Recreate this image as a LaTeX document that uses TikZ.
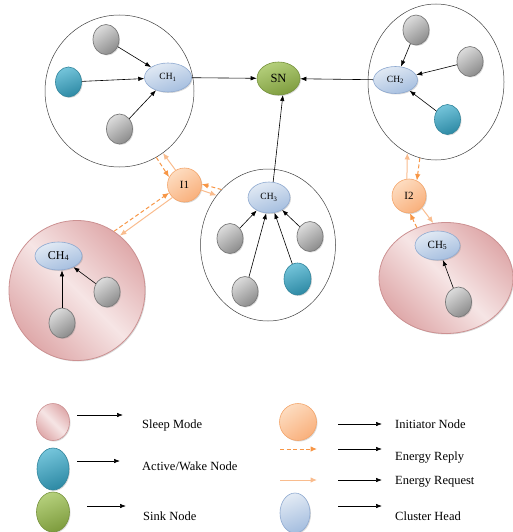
\documentclass[tikz,border=0pt]{standalone}
\usepackage{fontspec}
\setmainfont{Liberation Serif}
\usetikzlibrary{shapes.geometric,arrows.meta,shadows}
\definecolor{grayL}{HTML}{DCDCDC}
\definecolor{grayD}{HTML}{8C8C8C}
\definecolor{grayE}{HTML}{7A7A7A}
\definecolor{tealL}{HTML}{74C4DA}
\definecolor{tealD}{HTML}{2E8AA5}
\definecolor{tealE}{HTML}{31859C}
\definecolor{blueL}{HTML}{E2EAF4}
\definecolor{blueD}{HTML}{A5BEDF}
\definecolor{blueE}{HTML}{8EA9D0}
\definecolor{greenL}{HTML}{B5D07C}
\definecolor{greenD}{HTML}{7E9C3E}
\definecolor{greenE}{HTML}{76923C}
\definecolor{oraL}{HTML}{FDDCC0}
\definecolor{oraD}{HTML}{F9B07C}
\definecolor{oraE}{HTML}{F4A56A}
\definecolor{pinkD}{HTML}{DFA9AA}
\definecolor{pinkL}{HTML}{F6E5E5}
\definecolor{pinkE}{HTML}{CC9192}
\definecolor{repc}{HTML}{F79646}
\definecolor{reqc}{HTML}{F9BC8E}
\begin{document}
\begin{tikzpicture}[x=1pt,y=-1pt,
  ar/.style={-{Latex[length=6pt,width=4.5pt]},line width=0.6pt,black},
  req/.style={-{Latex[length=6.5pt,width=5.5pt]},line width=1pt,reqc},
  rep/.style={-{Latex[length=6.5pt,width=5.5pt]},line width=1pt,repc,dash pattern=on 4pt off 2.5pt},
  sh/.style={drop shadow={shadow xshift=1pt,shadow yshift=-1pt,opacity=0.3}},
  sens/.style={ellipse,inner sep=0pt,minimum width=26pt,minimum height=30pt,sh},
  gnode/.style={sens,draw=grayE,line width=0.7pt,top color=grayL,bottom color=grayD,shading angle=35},
  tnode/.style={sens,draw=tealE,line width=0.6pt,top color=tealL,bottom color=tealD,shading angle=20},
  chnode/.style={ellipse,inner sep=0pt,draw=blueE,line width=0.6pt,top color=blueL,bottom color=blueD,shading angle=20,sh,font=\fontsize{9.5}{10}\selectfont},
  snnode/.style={ellipse,inner sep=0pt,draw=greenE,line width=0.6pt,top color=greenL,bottom color=greenD,shading angle=20,sh,font=\fontsize{12.5}{14}\selectfont},
  inode/.style={circle,inner sep=0pt,draw=oraE,line width=0.6pt,top color=oraL,bottom color=oraD,shading angle=35,sh,minimum size=34pt,font=\fontsize{11}{12}\selectfont},
  clus/.style={ellipse,inner sep=0pt,draw=black!75,line width=0.5pt},
  pclus/.style={ellipse,inner sep=0pt,draw=pinkE,line width=0.8pt,top color=pinkD,bottom color=pinkD,middle color=pinkL,shading angle=-45,sh},
  legtext/.style={anchor=west,inner sep=0pt,font=\fontsize{12.5}{14}\selectfont}
]
\useasboundingbox (0,0) rectangle (513,532);

% clusters
\node[clus,minimum width=149pt,minimum height=152pt] (C1) at (119.5,91) {};
\node[clus,minimum width=136pt,minimum height=156pt] (C2) at (436,82) {};
\node[clus,minimum width=135pt,minimum height=152pt] (C3) at (268,245) {};
\node[pclus,minimum width=136pt,minimum height=140pt] (C4) at (77,290.5) {};
\node[pclus,minimum width=134pt,minimum height=111pt] (C5) at (446,278) {};

% sink
\node[snnode,minimum width=43pt,minimum height=33pt] (SN) at (278.5,78.5) {SN};

% cluster 1
\node[chnode,minimum width=47pt,minimum height=29pt] (CH1) at (168,77.5) {CH\textsubscript{1}};
\node[gnode] (g11) at (106,39.5) {};
\node[tnode] (t12) at (68.5,82) {};
\node[gnode] (g13) at (119.5,129) {};
\draw[ar] (g11) -- (CH1);
\draw[ar] (t12) -- (CH1);
\draw[ar] (g13) -- (CH1);

% cluster 2
\node[chnode,minimum width=44pt,minimum height=27pt] (CH2) at (395.5,80) {CH\textsubscript{2}};
\node[gnode] (g21) at (416,30) {};
\node[gnode] (g22) at (470,61.5) {};
\node[tnode] (t23) at (447.5,119.5) {};
\draw[ar] (g21) -- (CH2);
\draw[ar] (g22) -- (CH2);
\draw[ar] (t23) -- (CH2);

% cluster 3
\node[chnode,minimum width=42pt,minimum height=31pt] (CH3) at (269,197.5) {CH\textsubscript{3}};
\node[gnode] (g31) at (230,238.5) {};
\node[gnode] (g32) at (310,236.5) {};
\node[gnode] (g33) at (245,291.5) {};
\node[tnode,minimum width=27pt,minimum height=32pt] (t34) at (297.5,279) {};
\draw[ar] (g31) -- (CH3);
\draw[ar] (g32) -- (CH3);
\draw[ar] (g33) -- (CH3.-100);
\draw[ar] (t34) -- (CH3.-70);

% cluster 4
\node[chnode,minimum width=47pt,minimum height=28pt,font=\fontsize{12}{13}\selectfont] (CH4) at (58.5,256) {CH\textsubscript{4}};
\node[gnode] (g41) at (107,292) {};
\node[gnode] (g42) at (62,323) {};
\draw[ar] (g41) -- (CH4);
\draw[ar] (g42.north) -- (g42.north |- CH4.south);

% cluster 5
\node[chnode,minimum width=45pt,minimum height=29pt,font=\fontsize{11}{12}\selectfont] (CH5) at (437.5,245.5) {CH\textsubscript{5}};
\node[gnode] (g51) at (458.5,302) {};
\draw[ar] (g51) -- (CH5);

% to sink
\draw[ar] (CH1) -- (SN);
\draw[ar] (CH2) -- (SN);
\draw[ar] (CH3.75) -- (SN.-75);

% initiators
\node[inode] (I1) at (184.5,185) {I1};
\node[inode] (I2) at (409,196) {I2};

\draw[rep] (C1.-61) -- (I1.153);
\draw[req] (I1.121) -- (C1.-55);
\draw[rep] (C4.58) -- (I1.207);
\draw[req] (I1.226) -- (C4.52);
\draw[rep] (C3.130) -- (I1.3);
\draw[req] (I1.-17) -- (C3.136);
\draw[req] (I2.97) -- (C2.-112);
\draw[rep] (C2.-102) -- (I2.63);
\draw[rep] (C5.120) -- (I2.-87);
\draw[req] (I2.-43) -- (C5.103);

% legend
\node[pclus,minimum width=33pt,minimum height=37pt,line width=0.6pt] (Lsleep) at (53,422) {};
\node[tnode,minimum width=32pt,minimum height=42pt] (Lact) at (53,469) {};
\node[snnode,minimum width=33pt,minimum height=40pt] (Lsink) at (53,512) {};
\node[inode,minimum size=37pt] (Linit) at (298,422) {};
\node[chnode,minimum width=30pt,minimum height=40pt] (Lch) at (295,513) {};

\coordinate (a1s) at (77,415); \coordinate (a1e) at (123,415);
\coordinate (a2s) at (77,461); \coordinate (a2e) at (120,461);
\coordinate (a3s) at (87,506); \coordinate (a3e) at (126,506);
\coordinate (b1s) at (338,424); \coordinate (b1e) at (382,424);
\coordinate (b2s) at (338,449); \coordinate (b2e) at (382,449);
\coordinate (b3s) at (338,480); \coordinate (b3e) at (382,480);
\coordinate (b4s) at (338,506); \coordinate (b4e) at (382,506);
\coordinate (rps) at (280,449); \coordinate (rpe) at (317,449);
\coordinate (rqs) at (280,480); \coordinate (rqe) at (317,480);

\draw[ar] (a1s) -- (a1e);
\draw[ar] (a2s) -- (a2e);
\draw[ar] (a3s) -- (a3e);
\draw[ar] (b1s) -- (b1e);
\draw[ar] (b2s) -- (b2e);
\draw[ar] (b3s) -- (b3e);
\draw[ar] (b4s) -- (b4e);
\draw[rep] (rps) -- (rpe);
\draw[req] (rqs) -- (rqe);

\node[legtext] (tsleep) at (142,425) {Sleep Mode};
\node[legtext] (tact) at (142,466) {Active/Wake Node};
\node[legtext] (tsink) at (143,516) {Sink Node};
\node[legtext] (tinit) at (395,424) {Initiator Node};
\node[legtext] (trep) at (395,458) {Energy Reply};
\node[legtext] (treq) at (395,482) {Energy Request};
\node[legtext] (tch) at (395,516) {Cluster Head};
\end{tikzpicture}
\end{document}
